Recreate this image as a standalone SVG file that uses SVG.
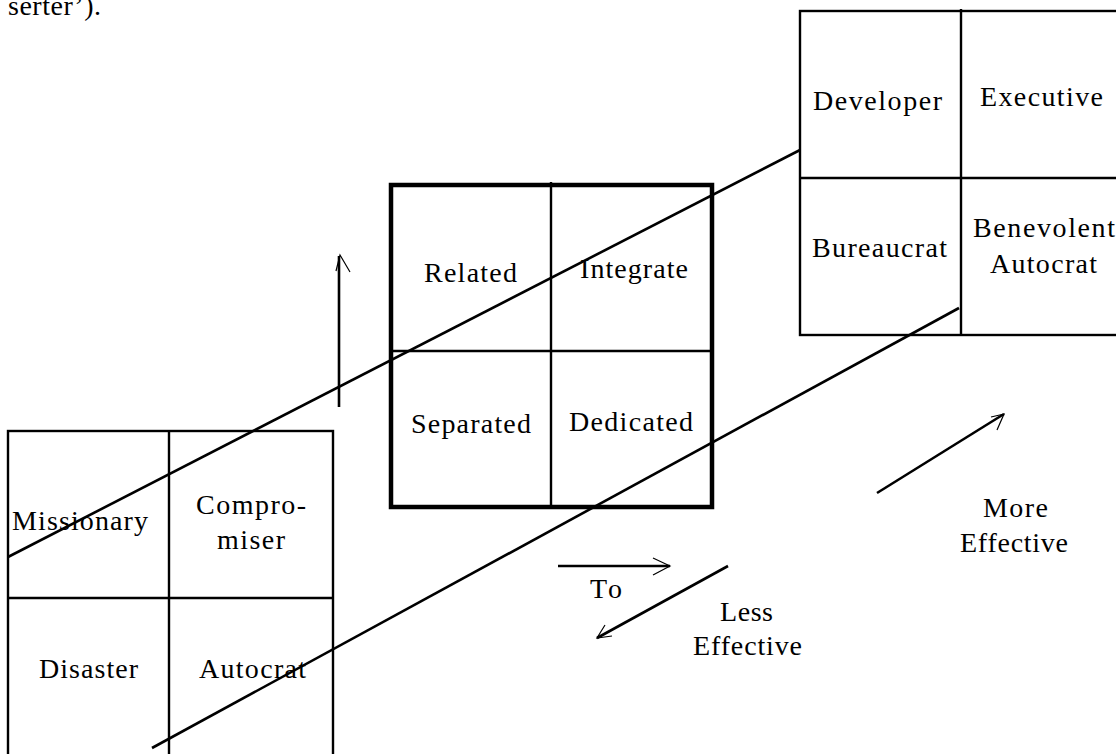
<svg xmlns="http://www.w3.org/2000/svg" width="1116" height="754" viewBox="0 0 1116 754">
<style>
text{font-family:"Liberation Serif","Times New Roman",serif;font-size:28px;fill:#000}
.b{fill:none;stroke:#000;stroke-width:2.4}
.t{fill:none;stroke:#000;stroke-width:4.5}
.l{stroke:#000;stroke-width:2.6;fill:none}
.h{stroke:#000;stroke-width:1.2;fill:none}
</style>
<rect width="1116" height="754" fill="#fff"/>
<text x="8" y="15" textLength="93" lengthAdjust="spacing">serter’).</text>
<g id="box-right">
<rect class="b" x="800" y="11" width="330" height="324"/>
<line class="b" x1="961" y1="9" x2="961" y2="335"/>
<line class="b" x1="800" y1="178" x2="1130" y2="178"/>
<text x="813" y="110" textLength="129" lengthAdjust="spacing">Developer</text>
<text x="980" y="106" textLength="123" lengthAdjust="spacing">Executive</text>
<text x="812" y="257" textLength="135" lengthAdjust="spacing">Bureaucrat</text>
<text x="973" y="237" textLength="142" lengthAdjust="spacing">Benevolent</text>
<text x="990" y="273" textLength="107" lengthAdjust="spacing">Autocrat</text>
</g>
<g id="box-middle">
<rect class="t" x="391" y="185" width="321" height="322"/>
<line class="b" x1="551" y1="182" x2="551" y2="507"/>
<line class="b" x1="391" y1="351" x2="712" y2="351"/>
<text x="424" y="282" textLength="93" lengthAdjust="spacing">Related</text>
<text x="580" y="278" textLength="108" lengthAdjust="spacing">Integrate</text>
<text x="411" y="433" textLength="120" lengthAdjust="spacing">Separated</text>
<text x="569" y="431" textLength="124" lengthAdjust="spacing">Dedicated</text>
</g>
<g id="box-left">
<rect class="b" x="8" y="431" width="325" height="340"/>
<line class="b" x1="169" y1="431" x2="169" y2="760"/>
<line class="b" x1="8" y1="598" x2="333" y2="598"/>
<text x="12" y="530" textLength="136" lengthAdjust="spacing">Missionary</text>
<text x="196" y="514" textLength="110" lengthAdjust="spacing">Compro-</text>
<text x="217" y="549" textLength="68" lengthAdjust="spacing">miser</text>
<text x="39" y="678" textLength="99" lengthAdjust="spacing">Disaster</text>
<text x="199" y="678" textLength="107" lengthAdjust="spacing">Autocrat</text>
</g>
<g id="connectors">
<line class="l" x1="8" y1="557" x2="800" y2="150"/>
<line class="l" x1="152" y1="748" x2="959" y2="308"/>
<line class="l" x1="339" y1="407" x2="339" y2="256"/>
<polyline class="h" points="336,271 340,255 350,272"/>
<line class="l" x1="877" y1="493" x2="1004" y2="414"/>
<polyline class="h" points="991,417 1004,414 997,430"/>
<line class="l" x1="558" y1="566" x2="670" y2="566"/>
<polyline class="h" points="653,558 670,566 653,575"/>
<line class="l" x1="728" y1="566" x2="597" y2="638"/>
<polyline class="h" points="605,625 597,638 612,636"/>
</g>
<g id="labels">
<text x="590" y="598" textLength="32" lengthAdjust="spacing">To</text>
<text x="720" y="621" textLength="53" lengthAdjust="spacing">Less</text>
<text x="693" y="655" textLength="109" lengthAdjust="spacing">Effective</text>
<text x="983" y="517" textLength="65" lengthAdjust="spacing">More</text>
<text x="960" y="552" textLength="108" lengthAdjust="spacing">Effective</text>
</g>
</svg>
